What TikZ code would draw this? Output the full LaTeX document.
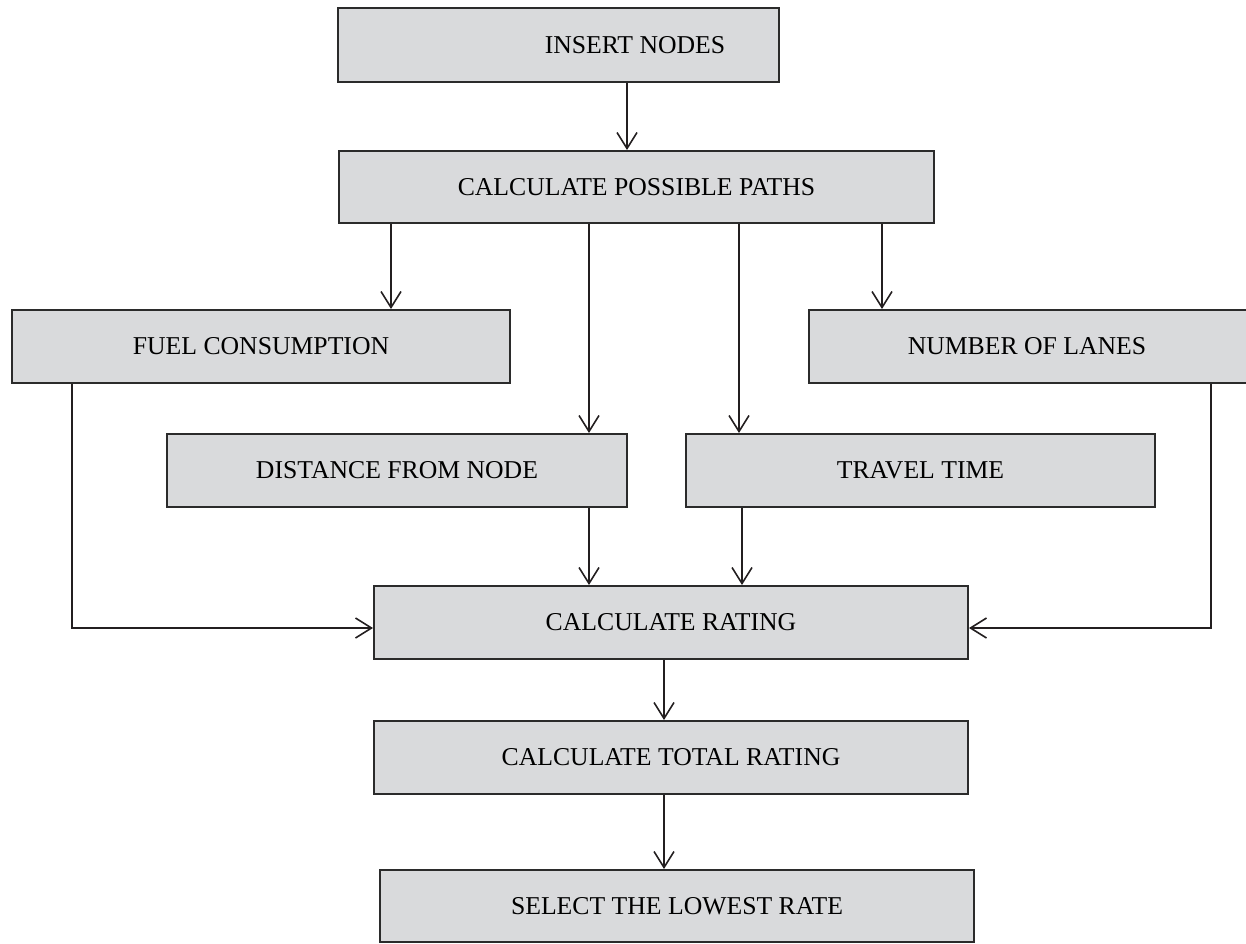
\documentclass[tikz,border=0pt]{standalone}
\usepackage{fontspec}
\setmainfont{Liberation Serif}
\usetikzlibrary{arrows.meta}
\definecolor{boxfill}{HTML}{D9DADC}
\definecolor{boxline}{HTML}{2B2B2B}
\definecolor{arrline}{HTML}{231F20}
\tikzset{
  box/.style={draw=boxline, fill=boxfill, line width=2pt, rectangle, inner sep=0pt,
    font=\fontsize{25.7}{30}\selectfont},
  lbl/.style={inner sep=0pt, font=\fontsize{25.7}{30}\selectfont},
  conn/.style={draw=arrline, line width=1.6pt, -{Straight Barb[length=16pt,width=20pt]}},
}
\begin{document}
\begin{tikzpicture}[x=1pt,y=-1pt]
\useasboundingbox (0,0) rectangle (1246,943);
\node[box, minimum width=441pt, minimum height=74pt] (ins) at (558.5,45) {};
\node[lbl] (inst) at (635,45) {INSERT NODES};
\node[box, minimum width=595pt, minimum height=72pt] (cpp) at (636.5,187) {CALCULATE POSSIBLE PATHS};
\node[box, minimum width=498pt, minimum height=73pt] (fuel) at (261,346.5) {FUEL CONSUMPTION};
\node[box, minimum width=444pt, minimum height=73pt] (lanes) at (1031,346.5) {};
\node[lbl] (lanest) at (1027,346.5) {NUMBER OF LANES};
\node[box, minimum width=460pt, minimum height=73pt] (dist) at (397,470.5) {DISTANCE FROM NODE};
\node[box, minimum width=469pt, minimum height=73pt] (travel) at (920.5,470.5) {TRAVEL TIME};
\node[box, minimum width=594pt, minimum height=73pt] (cr) at (671,622.5) {CALCULATE RATING};
\node[box, minimum width=594pt, minimum height=73pt] (ctr) at (671,757.5) {CALCULATE TOTAL RATING};
\node[box, minimum width=594pt, minimum height=72pt] (slr) at (677,906) {SELECT THE LOWEST RATE};
\draw[conn] (ins.south -| 627,0) -- (cpp.north -| 627,0);
\draw[conn] (cpp.south -| 391,0) -- (fuel.north -| 391,0);
\draw[conn] (cpp.south -| 589,0) -- (dist.north -| 589,0);
\draw[conn] (cpp.south -| 739,0) -- (travel.north -| 739,0);
\draw[conn] (cpp.south -| 882,0) -- (lanes.north -| 882,0);
\draw[conn] (fuel.south -| 72,0) |- (cr.west |- 0,628);
\draw[conn] (lanes.south -| 1211,0) |- (cr.east |- 0,628);
\draw[conn] (dist.south -| 589,0) -- (cr.north -| 589,0);
\draw[conn] (travel.south -| 742,0) -- (cr.north -| 742,0);
\draw[conn] (cr.south -| 664,0) -- (ctr.north -| 664,0);
\draw[conn] (ctr.south -| 664,0) -- (slr.north -| 664,0);
\end{tikzpicture}
\end{document}
